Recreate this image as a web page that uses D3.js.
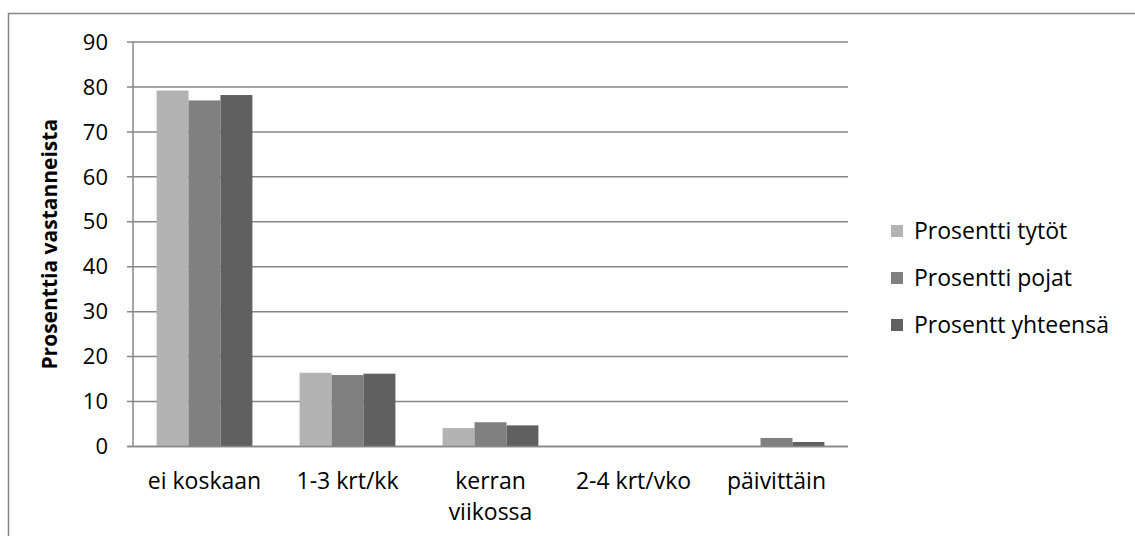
<!DOCTYPE html>
<html>
<head>
<meta charset="utf-8">
<script src="https://cdn.jsdelivr.net/npm/d3@7"></script>
<style>
  body { margin: 0; background: #fff; }
  svg text { font-family: "Open Sans", sans-serif; fill: #000; }
</style>
</head>
<body>
<div id="container"></div>
<script>
// Chart data
const categories = ["ei koskaan", "1-3 krt/kk", "kerran viikossa", "2-4 krt/vko", "päivittäin"];
const seriesNames = ["Prosentti tytöt", "Prosentti pojat", "Prosentt yhteensä"];
const tytot = [79.2, 16.4, 4.1, 0, 0];
const pojat = [77.0, 15.9, 5.4, 0, 1.9];
const yhteensa = [78.2, 16.2, 4.7, 0, 1.0];
const yTicks = [0, 10, 20, 30, 40, 50, 60, 70, 80, 90];

const seriesValues = [tytot, pojat, yhteensa];
const colors = ["#b3b3b3", "#808080", "#606060"];

const width = 1135, height = 536;
const margin = { left: 133, top: 42, right: 848, bottom: 446.5 };
const fs = 23;

const svg = d3.select("#container")
    .append("svg")
    .attr("width", width)
    .attr("height", height);

// outer chart frame (only top and left visible)
svg.append("rect")
    .attr("x", 8.5).attr("y", 13.5)
    .attr("width", 1140).attr("height", 540)
    .attr("fill", "none")
    .attr("stroke", "#868686")
    .attr("stroke-width", 1.5);

const x = d3.scaleBand()
    .domain(categories)
    .range([margin.left, margin.right])
    .paddingInner(0.33)
    .paddingOuter(0.165);

const xs = d3.scaleBand()
    .domain(seriesNames)
    .range([0, x.bandwidth()]);

const y = d3.scaleLinear()
    .domain([0, 90])
    .range([margin.bottom, margin.top]);

// gridlines
svg.append("g")
    .selectAll("line")
    .data(yTicks)
    .enter()
    .append("line")
    .attr("x1", margin.left - 6)
    .attr("x2", margin.right)
    .attr("y1", d => y(d))
    .attr("y2", d => y(d))
    .attr("stroke", "#878787")
    .attr("stroke-width", 1.5);

// y axis line
svg.append("line")
    .attr("x1", margin.left).attr("x2", margin.left)
    .attr("y1", y(90)).attr("y2", y(0))
    .attr("stroke", "#878787")
    .attr("stroke-width", 1.5);

// y tick labels
svg.append("g")
    .attr("font-size", fs - 1)
    .attr("text-anchor", "end")
    .selectAll("text")
    .data(yTicks)
    .enter()
    .append("text")
    .attr("x", 108)
    .attr("y", d => y(d))
    .attr("dy", "0.35em")
    .text(d => d);

// bars
const groups = svg.append("g")
    .selectAll("g")
    .data(seriesNames)
    .enter()
    .append("g")
    .attr("fill", (d, i) => colors[i]);

groups.selectAll("rect")
    .data((s, si) => categories.map((c, ci) => ({ s, c, v: seriesValues[si][ci] })))
    .enter()
    .append("rect")
    .attr("x", d => x(d.c) + xs(d.s))
    .attr("width", xs.bandwidth())
    .attr("y", d => y(d.v))
    .attr("height", d => y(0) - y(d.v));

// redraw baseline over bars
svg.append("line")
    .attr("x1", margin.left - 6).attr("x2", margin.right)
    .attr("y1", y(0)).attr("y2", y(0))
    .attr("stroke", "#878787")
    .attr("stroke-width", 1.5);

// category labels
const catLines = {
    "kerran viikossa": ["kerran", "viikossa"]
};
svg.append("g")
    .attr("font-size", fs)
    .attr("text-anchor", "middle")
    .selectAll("text")
    .data(categories)
    .enter()
    .append("text")
    .attr("x", d => x(d) + x.bandwidth() / 2)
    .attr("y", 489)
    .each(function (d) {
        const lines = catLines[d] || [d];
        d3.select(this).selectAll("tspan")
            .data(lines)
            .enter()
            .append("tspan")
            .attr("x", x(d) + x.bandwidth() / 2)
            .attr("dy", (l, i) => i === 0 ? 0 : 31)
            .text(l => l);
    });

// y axis title
svg.append("text")
    .attr("transform", `translate(57, ${(y(0) + y(90)) / 2}) rotate(-90)`)
    .attr("text-anchor", "middle")
    .attr("font-size", 21)
    .attr("font-weight", "bold")
    .text("Prosenttia vastanneista");

// legend
const legend = svg.append("g")
    .selectAll("g")
    .data(seriesNames)
    .enter()
    .append("g")
    .attr("transform", (d, i) => `translate(891, ${231 + i * 47})`);

legend.append("rect")
    .attr("x", 0).attr("y", -6)
    .attr("width", 12).attr("height", 12)
    .attr("fill", (d, i) => colors[i]);

legend.append("text")
    .attr("x", 23)
    .attr("dy", "0.35em")
    .attr("font-size", fs)
    .text(d => d);
</script>
</body>
</html>
